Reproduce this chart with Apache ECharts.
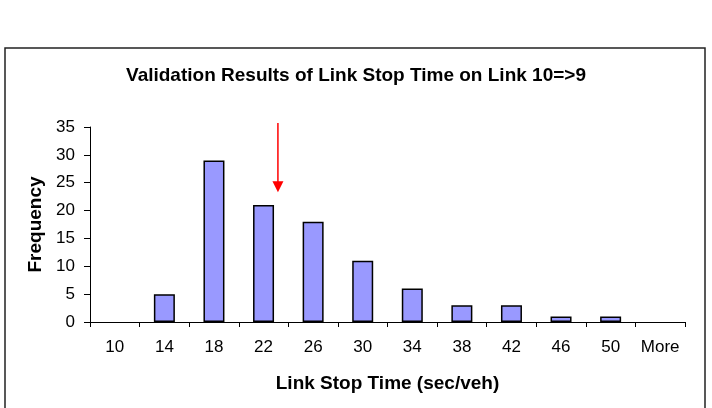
<!DOCTYPE html>
<html>
<head>
<meta charset="utf-8">
<script src="https://cdn.jsdelivr.net/npm/echarts@6/dist/echarts.min.js"></script>
<style>
  html, body { margin: 0; padding: 0; background: #fff; }
  #chart { width: 712px; height: 408px; }
</style>
</head>
<body>
<div id="chart"></div>
<script>
// bins of the histogram
var categories = ['10', '14', '18', '22', '26', '30', '34', '38', '42', '46', '50', 'More'];
var frequency = [0, 5, 29, 21, 18, 11, 6, 3, 3, 1, 1, 0];
// red arrow: position in category units, start and end in frequency
var arrowX = 3.79;
var arrowFrom = 35.7;
var arrowTo = 23.3;

var font = 'Liberation Sans, Arial, sans-serif';
var chart = echarts.init(document.getElementById('chart'));

// empty bins get no outline
var barData = frequency.map(function (v) {
    return v ? v : { value: v, itemStyle: { borderWidth: 0 } };
});

var frame = {
    type: 'rect',
    shape: { x: 5, y: 48, width: 700, height: 365 },
    style: { fill: 'none', stroke: '#222', lineWidth: 1.5 },
    silent: true
};

chart.setOption({
    animation: false,
    title: {
        text: 'Validation Results of Link Stop Time on Link 10=>9',
        left: 'center',
        top: 61,
        textStyle: { fontFamily: font, fontSize: 19, fontWeight: 'bold', color: '#000' }
    },
    grid: { left: 90, right: 27, top: 127, bottom: 86 },
    xAxis: [{
        type: 'category',
        data: categories,
        name: 'Link Stop Time (sec/veh)',
        nameLocation: 'middle',
        nameGap: 52,
        nameTextStyle: { fontFamily: font, fontSize: 19, fontWeight: 'bold', color: '#000' },
        axisLine: { show: true, lineStyle: { color: '#000', width: 1 } },
        axisTick: { show: true, interval: 0, length: 5, lineStyle: { color: '#000', width: 1 } },
        axisLabel: { interval: 0, fontFamily: font, fontSize: 17, color: '#000', margin: 17 }
    }, {
        type: 'value',
        min: 0,
        max: categories.length,
        show: false
    }],
    yAxis: {
        type: 'value',
        min: 0,
        max: 35,
        interval: 5,
        name: 'Frequency',
        nameLocation: 'middle',
        nameGap: 45,
        nameTextStyle: { fontFamily: font, fontSize: 19, fontWeight: 'bold', color: '#000' },
        axisLine: { show: true, lineStyle: { color: '#000', width: 1 } },
        axisTick: { show: true, length: 6, lineStyle: { color: '#000' } },
        splitLine: { show: false },
        axisLabel: { fontFamily: font, fontSize: 17, color: '#000', margin: 15 }
    },
    series: [{
        type: 'bar',
        data: barData,
        barWidth: 21,
        itemStyle: { color: '#9999ff', borderColor: '#000', borderWidth: 1.5 }
    }]
});

// the arrow starts above the axis top, so place it through the axes' own scales
var from = chart.convertToPixel({ xAxisIndex: 1, yAxisIndex: 0 }, [arrowX, arrowFrom]);
var to = chart.convertToPixel({ xAxisIndex: 1, yAxisIndex: 0 }, [arrowX, arrowTo]);
var head = 11;
chart.setOption({
    graphic: [frame, {
        type: 'line',
        shape: { x1: from[0], y1: from[1], x2: to[0], y2: to[1] - head + 1 },
        style: { stroke: '#ff0000', lineWidth: 1.5 },
        silent: true
    }, {
        type: 'polygon',
        shape: { points: [[to[0] - 5.5, to[1] - head], [to[0] + 5.5, to[1] - head], [to[0], to[1]]] },
        style: { fill: '#ff0000' },
        silent: true
    }]
});
</script>
</body>
</html>
